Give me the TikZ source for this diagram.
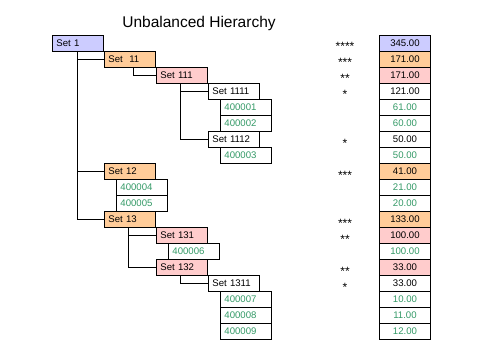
\documentclass[tikz,border=0pt]{standalone}
\usepackage{fontspec}
\setmainfont{Liberation Sans}
\definecolor{bleu}{RGB}{204,204,255}
\definecolor{orange}{RGB}{255,204,153}
\definecolor{rose}{RGB}{255,204,204}
\definecolor{vert}{RGB}{51,153,102}
\begin{document}
\begin{tikzpicture}[x=1pt,y=-1pt]
            \useasboundingbox (0,0) rectangle (478,358);
            \tikzstyle{boite}=[draw,line width=0.9pt,anchor=north west,minimum height=16pt,text width=43pt,inner xsep=4pt,inner ysep=0pt,align=left,font=\fontsize{9.6}{10}\selectfont]
            \tikzstyle{feuille}=[boite,text=vert]
            \tikzstyle{valeur}=[boite,align=center]
            \tikzstyle{etoile}=[anchor=base,font=\fontsize{12}{12}\selectfont]
            \tikzstyle{lien}=[line width=0.9pt]
            \node[anchor=base] (titre) at (199,28) {\fontsize{15.5}{18}\selectfont Unbalanced Hierarchy};
            % l'arbre
            \node[boite,fill=bleu] (s1) at (52,35) {Set 1};
            \node[boite,fill=orange] (s11) at (104,51) {Set\ \ 11};
            \node[boite,fill=rose] (s111) at (156,67) {Set 111};
            \node[boite] (s1111) at (208,83) {Set 1111};
            \node[feuille] (f1) at (220,99) {400001};
            \node[feuille] (f2) at (220,115) {400002};
            \node[boite] (s1112) at (208,131) {Set 1112};
            \node[feuille] (f3) at (220,147) {400003};
            \node[boite,fill=orange] (s12) at (104,163) {Set 12};
            \node[feuille] (f4) at (116,179) {400004};
            \node[feuille] (f5) at (116,195) {400005};
            \node[boite,fill=orange] (s13) at (104,211) {Set 13};
            \node[boite,fill=rose] (s131) at (156,227) {Set 131};
            \node[feuille] (f6) at (168,243) {400006};
            \node[boite,fill=rose] (s132) at (156,259) {Set 132};
            \node[boite] (s1311) at (208,275) {Set 1311};
            \node[feuille] (f7) at (220,291) {400007};
            \node[feuille] (f8) at (220,307) {400008};
            \node[feuille] (f9) at (220,323) {400009};
            \draw[lien] ([xshift=25pt]s1.south west) |- (s11.west);
            \draw[lien] ([xshift=25pt]s1.south west) |- (s12.west);
            \draw[lien] ([xshift=25pt]s1.south west) |- (s13.west);
            \draw[lien] ([xshift=29pt]s11.south west) |- (s111.west);
            \draw[lien] ([xshift=24pt]s111.south west) |- (s1111.west);
            \draw[lien] ([xshift=24pt]s111.south west) |- (s1112.west);
            \draw[lien] ([xshift=24pt]s13.south west) |- (s131.west);
            \draw[lien] ([xshift=24pt]s13.south west) |- (s132.west);
            \draw[lien] ([xshift=24pt]s132.south west) |- (s1311.west);
            % les niveaux
            \node[etoile] (e0) at (345,51) {****};
            \node[etoile] (e1) at (345,67) {***};
            \node[etoile] (e2) at (345,83) {**};
            \node[etoile] (e3) at (345,99) {*};
            \node[etoile] (e6) at (345,147) {*};
            \node[etoile] (e8) at (345,179) {***};
            \node[etoile] (e11) at (345,227) {***};
            \node[etoile] (e12) at (345,243) {**};
            \node[etoile] (e14) at (345,275) {**};
            \node[etoile] (e15) at (345,291) {*};
            % les valeurs
            \node[valeur,fill=bleu] (v0) at (379,35) {345.00};
            \node[valeur,fill=orange] (v1) at (379,51) {171.00};
            \node[valeur,fill=rose] (v2) at (379,67) {171.00};
            \node[valeur] (v3) at (379,83) {121.00};
            \node[valeur,text=vert] (v4) at (379,99) {61.00};
            \node[valeur,text=vert] (v5) at (379,115) {60.00};
            \node[valeur] (v6) at (379,131) {50.00};
            \node[valeur,text=vert] (v7) at (379,147) {50.00};
            \node[valeur,fill=orange] (v8) at (379,163) {41.00};
            \node[valeur,text=vert] (v9) at (379,179) {21.00};
            \node[valeur,text=vert] (v10) at (379,195) {20.00};
            \node[valeur,fill=orange] (v11) at (379,211) {133.00};
            \node[valeur,fill=rose] (v12) at (379,227) {100.00};
            \node[valeur,text=vert] (v13) at (379,243) {100.00};
            \node[valeur,fill=rose] (v14) at (379,259) {33.00};
            \node[valeur] (v15) at (379,275) {33.00};
            \node[valeur,text=vert] (v16) at (379,291) {10.00};
            \node[valeur,text=vert] (v17) at (379,307) {11.00};
            \node[valeur,text=vert] (v18) at (379,323) {12.00};
\end{tikzpicture}
\end{document}
